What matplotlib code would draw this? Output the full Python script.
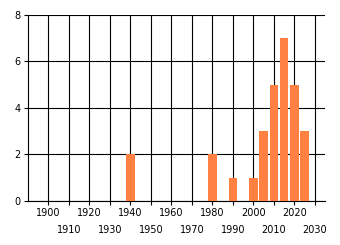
import matplotlib
matplotlib.use("Agg")
import matplotlib.pyplot as plt

# bar data
years = [1940, 1980, 1990, 2000, 2005, 2010, 2015, 2020, 2025]
counts = [2, 2, 1, 1, 3, 5, 7, 5, 3]

upper_ticks = [1900, 1920, 1940, 1960, 1980, 2000, 2020]   # first label row
lower_ticks = [1910, 1930, 1950, 1970, 1990, 2010, 2030]   # second label row
y_ticks = [0, 2, 4, 6, 8]

fig = plt.figure(figsize=(3.4, 2.45), dpi=100)
ax = fig.add_axes([0.082, 0.18, 0.874, 0.759])

ax.bar(years, counts, width=4.2, color="#ff8040", zorder=3)

ax.set_xlim(1890, 2035)
ax.set_ylim(0, 8)
ax.set_xticks(upper_ticks, labels=[str(y) for y in upper_ticks])
ax.set_xticks(lower_ticks, labels=[str(y) for y in lower_ticks], minor=True)
ax.set_yticks(y_ticks)
ax.grid(True, which="both", color="black", linewidth=0.8)
ax.set_axisbelow(True)

ax.tick_params(axis="both", which="both", direction="out", length=3,
               width=0.8, labelsize=7, colors="black", pad=2)
ax.tick_params(axis="x", which="minor", pad=14)
for side in ("top", "right"):
    ax.spines[side].set_visible(False)
for side in ("left", "bottom"):
    ax.spines[side].set_linewidth(0.8)

fig.savefig("out.png", dpi=100)
